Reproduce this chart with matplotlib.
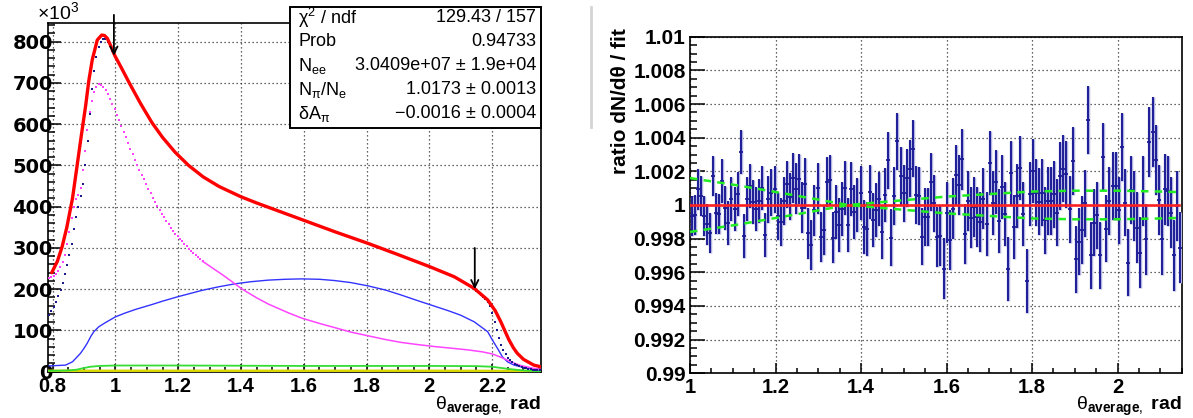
import numpy as np
import matplotlib
matplotlib.use("Agg")
import matplotlib.pyplot as plt
from matplotlib.patches import Rectangle
from matplotlib.lines import Line2D
from matplotlib.ticker import MultipleLocator, FuncFormatter

plt.rcParams['font.family'] = ['Liberation Sans', 'DejaVu Sans']
plt.rcParams['mathtext.fontset'] = 'custom'
plt.rcParams['mathtext.rm'] = 'Liberation Sans'
plt.rcParams['mathtext.it'] = 'Liberation Sans:italic'
plt.rcParams['mathtext.bf'] = 'Liberation Sans:bold'
plt.rcParams['mathtext.sf'] = 'Liberation Sans'

# ---------------- left panel data (units of 10^3) ----------------
FIT_RANGE = [1.0, 2.15]
N_RATIO_BINS = 160

RED_X = [0.797, 0.815, 0.830, 0.845, 0.863, 0.876, 0.889, 0.905, 0.915, 0.926, 0.942,
         0.956, 0.965, 0.974, 0.985, 0.998, 1.020, 1.044, 1.080, 1.116, 1.150, 1.190,
         1.233, 1.280, 1.330, 1.400, 1.450, 1.500, 1.600, 1.700, 1.805, 1.900, 2.000,
         2.080, 2.143, 2.186, 2.210, 2.228, 2.242, 2.254, 2.268, 2.280, 2.300, 2.333, 2.355]
RED_Y = [240, 268, 303, 350, 420, 490, 561, 645, 705, 756, 804,
         816, 815, 808, 790, 766, 735, 700, 650, 604, 568, 532,
         500, 472, 449, 424, 409, 395, 367, 339, 311, 284, 255,
         230, 202, 174, 148, 121, 97, 77, 58, 45, 30, 16, 12]

DATA_X_LO = [0.789, 0.796, 0.803, 0.810, 0.817, 0.825, 0.832, 0.839, 0.846, 0.853,
             0.860, 0.868, 0.875, 0.882, 0.889, 0.896, 0.903, 0.911, 0.918, 0.925,
             0.932, 0.939, 0.947, 0.954, 0.961, 0.968, 0.975, 0.982, 0.990, 0.997]
DATA_Y_LO = [137, 147, 158, 170, 183, 198, 216, 236, 258, 282,
             310, 345, 375, 400, 425, 455, 500, 560, 625, 685,
             730, 763, 788, 800, 806, 806, 800, 790, 778, 766]
DATA_X_HI = [2.143, 2.150, 2.158, 2.165, 2.172, 2.179, 2.186, 2.193, 2.200, 2.208,
             2.215, 2.222, 2.229, 2.236, 2.244, 2.251, 2.258, 2.265, 2.272, 2.280,
             2.287, 2.294, 2.301, 2.308, 2.316, 2.323, 2.330, 2.337, 2.344, 2.352]
DATA_Y_HI = [200, 196, 191, 186, 181, 176, 170, 160, 143, 120,
             100, 81, 65, 52, 42, 34, 28, 23, 19, 16,
             14, 12, 10, 9, 7, 6, 5, 5, 4, 4]

MAG_DOTS_Y = [228, 230, 233, 238, 245, 255, 266, 283, 310, 338,
              372, 400, 418, 428, 445, 490, 535, 585, 630, 657,
              677, 690, 697, 695, 690, 683, 672, 660, 650, 636,
              623, 609, 595, 581, 568, 554, 541, 527, 514, 502,
              490, 478, 466, 454, 443, 432, 421, 411, 401, 392,
              383, 374, 365, 357, 349, 342, 335, 328, 322, 316,
              310, 304, 298, 292, 287, 282, 277, 272, 268]
MAG_LINE_X = [1.277, 1.300, 1.339, 1.370, 1.402, 1.450, 1.487, 1.550, 1.593, 1.650,
              1.698, 1.750, 1.805, 1.860, 1.910, 1.960, 2.016, 2.070, 2.122, 2.170,
              2.201, 2.225, 2.249, 2.270, 2.291, 2.333, 2.355]
MAG_LINE_Y = [268, 256, 236, 219, 201, 179, 164, 143, 130, 117,
              107, 96, 87, 78, 71, 66, 61, 57, 53, 48,
              43, 36, 28, 21, 15, 8, 6]

BLUE_X = [0.789, 0.841, 0.863, 0.878, 0.889, 0.900, 0.910, 0.921, 0.931, 0.947, 0.968,
          1.000, 1.030, 1.064, 1.117, 1.150, 1.200, 1.240, 1.275, 1.330, 1.381, 1.430,
          1.487, 1.540, 1.593, 1.650, 1.698, 1.750, 1.805, 1.860, 1.910, 1.960, 2.016,
          2.060, 2.100, 2.143, 2.186, 2.201, 2.217, 2.233, 2.249, 2.270, 2.312, 2.355]
BLUE_Y = [14, 16, 24, 36, 45, 57, 69, 85, 97, 109, 119,
          133, 142, 151, 163, 171, 182, 190, 197, 206, 213, 218,
          222, 224, 225, 224, 221, 216, 208, 198, 186, 173, 159,
          148, 137, 121, 97, 77, 57, 36, 24, 16, 8, 4]

GREEN_X = [0.789, 0.850, 0.877, 0.900, 0.920, 0.950, 1.000, 1.200, 1.400, 1.600,
           1.800, 2.000, 2.150, 2.200, 2.230, 2.260, 2.300, 2.355]
GREEN_Y = [2, 3, 5, 9, 12, 14, 15, 15, 14.5, 14, 14, 14, 13.5, 12, 9, 6, 3, 1]

YELLOW_X = [0.789, 1.000, 1.500, 2.000, 2.200, 2.355]
YELLOW_Y = [1.5, 1.5, 1.5, 1.5, 1.2, 0.5]

ARROW_TIP = [766, 200]
ARROW_TAIL = [865, 300]

# ---------------- right panel data ----------------
RATIO_DEV_E4 = [
    -6.5, -6.1, 9.3, 5.3, -6.5, -11.5, -16.8, 17.2, -5.0, -5.5, 14.3, -1.6, -10.5, 3.4, -2.6, 6.7,
    31.7, -18.4, 3.4, 11.3, 1.8, -2.2, 2.4, 10.3, -18.0, 3.4, 7.3, 9.3, -6.5, -10.1, 2.4, 12.3, 4.8,
    16.0, 9.7, 15.6, -1.6, 12.7, -16.8, -23.8, -3.2, 9.9, -19.0, -15.0, 13.7, 14.7, -19.4, -4.2, -11.9,
    -2.2, 10.3, -11.9, 9.7, -4.0, -0.2, 6.9, -12.9, -14.1, 7.9, -8.9, -3.2, 3.8, -16.0, 5.7,
    26.5, -19.4, 5.3, 37.8, 17.2, 6.9, 16.0, 21.6, 33.5, 5.9, 5.3, -18.8, -7.1, -7.1, 13.7, 1.0,
    -19.0, -18.4, -37.8, -4.6, -20.8, -2.2, 17.8, 11.9, 27.1, -17.2, 2.4, -7.5, -1.2, -7.1, -10.1, 3.8,
    -11.1, 24.8, 1.0, 13.7, -9.3, 10.9, -5.1, -38.2, 18.8, -13.1, 5.3, 22.2, -5.5, -45.1, 6.7, 20.2,
    7.3, 2.0, 7.3, -9.1, 2.4, 2.4, 6.3, -4.6, 17.2, 21.6, 18.2, -2.6, 26.1, -32.3, -21.8, -14.9,
    1.0, 50.5, -29.9, -10.5, -6.1, -29.9, 28.5, -14.1, 2.4, 11.3, 11.3, -3.2, 34.5, 1.4, -34.3, 8.9,
    -0.6, -13.5, -28.3, 8.3, -20.4, 37.4, 43.4, 26.7, 3.0, -20.4, 9.3, 8.3, -4.6, -29.9, -0.6, -25.3]
RATIO_ERR_E4 = [
    12, 12, 12, 12, 12, 12, 12, 12, 12, 12, 13, 13, 13, 13, 13, 13,
    13, 13, 13, 13, 13, 13, 13, 13, 13, 14, 14, 14, 14, 14, 14, 14, 14,
    15, 15, 15, 15, 15, 15, 15, 15, 15, 15, 15, 15, 15, 15, 16, 16,
    16, 16, 16, 16, 16, 16, 16, 16, 16, 16, 16, 16, 16, 16, 16,
    17, 17, 17, 17, 17, 17, 17, 17, 17, 17, 17, 17, 17, 17, 17, 17,
    18, 18, 18, 18, 18, 18, 18, 18, 18, 18, 18, 18, 18, 18, 18, 18,
    19, 19, 19, 19, 19, 19, 19, 19, 19, 19, 19, 19, 19, 19, 19, 19,
    20, 20, 20, 20, 20, 20, 20, 20, 20, 20, 20, 20, 20, 20, 20, 20,
    20, 20, 20, 20, 20, 20, 20, 20, 20, 20, 20, 20, 20, 20, 20, 20,
    21, 21, 21, 21, 21, 21, 21, 21, 21, 21, 21, 21, 21, 21, 21, 21]

BAND_X = [1.000, 1.113, 1.230, 1.300, 1.370, 1.460, 1.600, 1.700, 1.800, 1.900, 2.000, 2.100, 2.150]
BAND_DEV_E4 = [16, 11.6, 6.4, 3.2, 0, -2, -5, -6.5, -8, -8.5, -8.5, -8, -7.6]

STATS_NAMES = ['χ$^{2}$ / ndf', 'Prob', 'N$_{\\mathrm{ee}}$',
               'N$_{\\mathrm{π}}$/N$_{\\mathrm{e}}$', 'δA$_{\\mathrm{π}}$']
STATS_VALUES = ['129.43 / 157', '0.94733', '3.0409e+07 ± 1.9e+04',
                '1.0173 ± 0.0013', '−0.0016 ± 0.0004']

# ---------------- figure ----------------
W, H = 1193, 418
fig = plt.figure(figsize=(W / 100, H / 100), dpi=100)
fig.patch.set_facecolor('white')


def fx(px):
    return px / W


def fy(py):
    return 1 - py / H


ax1 = fig.add_axes([fx(48), fy(371.7), fx(541) - fx(48), fy(22.7) - fy(371.7)])
ax2 = fig.add_axes([fx(690), fy(373.3), fx(1181.7) - fx(690), fy(36.7) - fy(373.3)])

GRID = dict(linestyle=(0, (1, 2.2)), color='#333333', linewidth=0.9)
fmt = FuncFormatter(lambda v, p: f"{round(v, 6):g}")

# ----- left panel -----
ax1.set_xlim(0.785, 2.356)
ax1.set_ylim(0, 846)
ax1.xaxis.set_major_locator(MultipleLocator(0.2))
ax1.xaxis.set_minor_locator(MultipleLocator(0.05))
ax1.yaxis.set_major_locator(MultipleLocator(100))
ax1.yaxis.set_minor_locator(MultipleLocator(20))
ax1.xaxis.set_major_formatter(fmt)
ax1.grid(True, which='major', **GRID)
ax1.set_axisbelow(True)

ax1.plot(YELLOW_X, YELLOW_Y, color='#d8d800', lw=2.2, zorder=3)
ax1.plot(GREEN_X, GREEN_Y, color='#33dd33', lw=1.3, zorder=3)
ax1.plot(BLUE_X, BLUE_Y, color='#3333ff', lw=1.0, zorder=3)
left_edge = 0.785
bw = (FIT_RANGE[1] - FIT_RANGE[0]) / N_RATIO_BINS
mag_x = left_edge + (np.arange(len(MAG_DOTS_Y)) + 0.5) * bw
ax1.plot(mag_x, MAG_DOTS_Y, ls='none', marker='s', ms=1.5, mew=0, color='#ff44ff', zorder=3)
ax1.plot(MAG_LINE_X, MAG_LINE_Y, color='#ff44ff', lw=1.1, zorder=3)
ax1.plot(DATA_X_LO, DATA_Y_LO, ls='none', marker='s', ms=1.8, mew=0, color='#1a1a8c', zorder=4)
ax1.plot(DATA_X_HI, DATA_Y_HI, ls='none', marker='s', ms=1.8, mew=0, color='#1a1a8c', zorder=4)
ax1.plot(RED_X, RED_Y, color='#ff0000', lw=2.4, zorder=5, solid_capstyle='round',
         solid_joinstyle='round')

for xa, tip, tail in zip(FIT_RANGE, ARROW_TIP, ARROW_TAIL):
    ax1.annotate('', xy=(xa - 0.005, tip), xytext=(xa - 0.005, tail),
                 arrowprops=dict(arrowstyle='->', lw=1.3, color='black', mutation_scale=13,
                                 shrinkA=0, shrinkB=0),
                 annotation_clip=False, zorder=6)

ax1.tick_params(axis='both', which='both', direction='in', top=False, right=False, width=1.1)
ax1.tick_params(axis='y', which='major', length=9.5, pad=-3.5)
ax1.tick_params(axis='y', which='minor', length=5)
ax1.tick_params(axis='x', which='major', length=6, pad=3.5)
ax1.tick_params(axis='x', which='minor', length=3.6)
for lab in ax1.get_yticklabels():
    lab.set_fontfamily('DejaVu Sans')
    lab.set_fontweight('bold')
    lab.set_fontsize(14)
for lab in ax1.get_xticklabels():
    lab.set_fontweight('bold')
    lab.set_fontsize(14.5)
for s in ax1.spines.values():
    s.set_linewidth(1.2)

fig.text(fx(37), fy(12), '×10$^{3}$', fontsize=14, ha='left', va='center')

# ----- right panel -----
ax2.set_xlim(FIT_RANGE[0], FIT_RANGE[1])
ax2.set_ylim(0.99, 1.01)
ax2.xaxis.set_major_locator(MultipleLocator(0.2))
ax2.xaxis.set_minor_locator(MultipleLocator(0.05))
ax2.yaxis.set_major_locator(MultipleLocator(0.002))
ax2.yaxis.set_minor_locator(MultipleLocator(0.0005))
ax2.xaxis.set_major_formatter(fmt)
ax2.yaxis.set_major_formatter(fmt)
ax2.grid(True, which='major', **GRID)
ax2.set_axisbelow(True)

rx = FIT_RANGE[0] + (np.arange(N_RATIO_BINS) + 0.5) * bw
ry = 1 + np.array(RATIO_DEV_E4) * 1e-4
re = np.array(RATIO_ERR_E4) * 1e-4
ax2.vlines(rx, ry - re, ry + re, color='#b4b4e2', lw=2.5, zorder=3)
ax2.vlines(rx, ry - re, ry + re, color='#1c1c96', lw=1.4, zorder=4)
ax2.plot(rx, ry, ls='none', marker='_', ms=3.0, mew=1.3, color='#1c1c96', zorder=5)

ax2.plot([FIT_RANGE[0], 2.144], [1, 1], color='#ff2020', lw=1.9, zorder=6)
band = np.array(BAND_DEV_E4) * 1e-4
ax2.plot(BAND_X, 1 + band, color='#22ee22', lw=1.8, ls=(0, (3, 2.5)), zorder=7)
ax2.plot(BAND_X, 1 - band, color='#22ee22', lw=1.8, ls=(0, (3, 2.5)), zorder=7)

ax2.tick_params(axis='both', which='both', direction='in', top=False, right=False, width=1.1)
ax2.tick_params(axis='y', which='major', length=10.5, pad=3)
ax2.tick_params(axis='y', which='minor', length=5)
ax2.tick_params(axis='x', which='major', length=7, pad=3.5)
ax2.tick_params(axis='x', which='minor', length=3.6)
for lab in ax2.get_yticklabels():
    lab.set_fontweight('bold')
    lab.set_fontsize(15)
for lab in ax2.get_xticklabels():
    lab.set_fontweight('bold')
    lab.set_fontsize(14.5)
for s in ax2.spines.values():
    s.set_linewidth(1.2)

# axis titles
xt = '$\\mathrm{θ}_{\\mathbf{average},}$ rad'
fig.text(fx(541), fy(406), xt, fontsize=14, fontweight='bold', ha='right', va='center')
fig.text(fx(1182), fy(406), xt, fontsize=14, fontweight='bold', ha='right', va='center')
fig.text(fx(620), fy(28), 'ratio dN/dθ / fit', fontsize=15, fontweight='bold',
         rotation=90, ha='center', va='top')

# stats box (with the faint edge of its pad at the right)
fig.lines.append(Line2D([fx(591), fx(591)], [fy(7), fy(127)], transform=fig.transFigure,
                        color='#d4d4d4', lw=2.0))
box = Rectangle((fx(290), fy(128)), fx(541) - fx(290), fy(7) - fy(128), transform=fig.transFigure,
                facecolor='white', edgecolor='black', lw=1.4, zorder=10)
fig.patches.append(box)
row_y = [18, 42, 66, 90, 114]
for yy, nm, val in zip(row_y, STATS_NAMES, STATS_VALUES):
    fig.text(fx(298), fy(yy), nm, fontsize=13, ha='left', va='center', zorder=11)
    fig.text(fx(536), fy(yy), val, fontsize=13, ha='right', va='center', zorder=11)

fig.savefig('out.png', dpi=100)
